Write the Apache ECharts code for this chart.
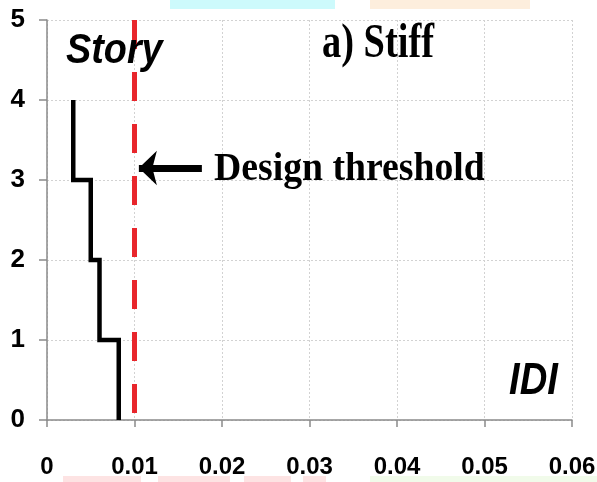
<!DOCTYPE html>
<html><head><meta charset="utf-8">
<script src="https://cdn.jsdelivr.net/npm/echarts@6/dist/echarts.min.js"></script>
<style>html,body{margin:0;padding:0;background:#fff}#c{width:597px;height:482px}</style>
</head><body><div id="c"></div>
<script>
// Story levels (bottom/top of each storey) and IDI per storey
const storyLevels = [0, 1, 2, 3, 4];
const storyIDI = [0.0082, 0.006, 0.005, 0.003]; // storey 1..4
const thresholdIDI = 0.01;
const xTicks = [0, 0.01, 0.02, 0.03, 0.04, 0.05, 0.06];
const yTicks = [0, 1, 2, 3, 4, 5];

// build step profile points
const profile = [];
for (let i = 0; i < storyIDI.length; i++) {
  profile.push([storyIDI[i], storyLevels[i]]);
  profile.push([storyIDI[i], storyLevels[i + 1]]);
}

const chart = echarts.init(document.getElementById('c'));
const sans = '"Liberation Sans", Arial, sans-serif';
const serif = '"Liberation Serif", "Times New Roman", serif';

chart.setOption({
  animation: false,
  backgroundColor: '#fff',
  grid: {left: 47, right: 25, top: 20, bottom: 62, containLabel: false, outerBoundsMode: 'none'},
  xAxis: {
    type: 'value', min: xTicks[0], max: xTicks[xTicks.length - 1], interval: 0.01,
    axisLine: {show: true, lineStyle: {color: '#8a8a8a', width: 1.5}},
    axisTick: {show: true, length: 7, lineStyle: {color: '#8a8a8a', width: 1.5}},
    axisLabel: {margin: 35, color: '#000', fontWeight: 'bold', fontSize: 24,
      formatter: v => String(+v.toFixed(2))},
    splitLine: {show: true, lineStyle: {color: '#d2d2d2', type: [2, 2], width: 1}}
  },
  yAxis: {
    type: 'value', min: yTicks[0], max: yTicks[yTicks.length - 1], interval: 1,
    axisLine: {show: true, lineStyle: {color: '#8a8a8a', width: 1.5}},
    axisTick: {show: true, length: 8, lineStyle: {color: '#8a8a8a', width: 1.5}},
    axisLabel: {margin: 22, color: '#000', fontWeight: 'bold', fontSize: 26},
    splitLine: {show: true, lineStyle: {color: '#d2d2d2', type: [2, 2], width: 1}}
  },
  series: [
    {
      type: 'line', data: profile, symbol: 'none', z: 4,
      lineStyle: {color: '#000', width: 4.5, join: 'miter'}
    },
    {
      type: 'line', data: [[thresholdIDI, 5], [thresholdIDI, 0]], symbol: 'none', z: 3,
      lineStyle: {color: '#e8262c', width: 5, type: [29, 23], cap: 'butt'},
      markLine: {
        silent: true, animation: false,
        symbol: ['none', 'arrow'], symbolSize: [26, 18],
        label: {show: false},
        lineStyle: {color: '#000', width: 7, type: 'solid'},
        data: [[{coord: [0.0177, 3.15]}, {coord: [0.0105, 3.15]}]]
      }
    }
  ],
  graphic: [
    {type: 'rect', z: -10, shape: {x: 170, y: 0, width: 165, height: 9}, style: {fill: '#cdfafc'}},
    {type: 'rect', z: -10, shape: {x: 370, y: 0, width: 160, height: 9}, style: {fill: '#fdeedd'}},
    {type: 'rect', z: -10, shape: {x: 63, y: 476, width: 78, height: 6}, style: {fill: '#fde3e3'}},
    {type: 'rect', z: -10, shape: {x: 158, y: 476, width: 72, height: 6}, style: {fill: '#fde3e3'}},
    {type: 'rect', z: -10, shape: {x: 244, y: 476, width: 47, height: 6}, style: {fill: '#fde3e3'}},
    {type: 'rect', z: -10, shape: {x: 303, y: 476, width: 23, height: 6}, style: {fill: '#fde3e3'}},
    {type: 'rect', z: -10, shape: {x: 370, y: 476, width: 227, height: 6}, style: {fill: '#f1fbea'}},
    {type: 'text', z: 10, x: 66, y: 51, scaleX: 0.9,
      style: {text: 'Story', font: 'italic bold 42px ' + sans, fill: '#000', textAlign: 'left', textVerticalAlign: 'middle'}},
    {type: 'text', z: 10, x: 322, y: 45, scaleX: 0.8,
      style: {text: 'a) Stiff', font: 'bold 48px ' + serif, fill: '#000', textAlign: 'left', textVerticalAlign: 'middle'}},
    {type: 'text', z: 10, x: 214, y: 169, scaleX: 0.92,
      style: {text: 'Design threshold', font: 'bold 41px ' + serif, fill: '#000', textAlign: 'left', textVerticalAlign: 'middle'}},
    {type: 'text', z: 10, x: 509, y: 382, scaleX: 0.85,
      style: {text: 'IDI', font: 'italic bold 45px ' + sans, fill: '#000', textAlign: 'left', textVerticalAlign: 'middle'}}
  ]
});
</script></body></html>
